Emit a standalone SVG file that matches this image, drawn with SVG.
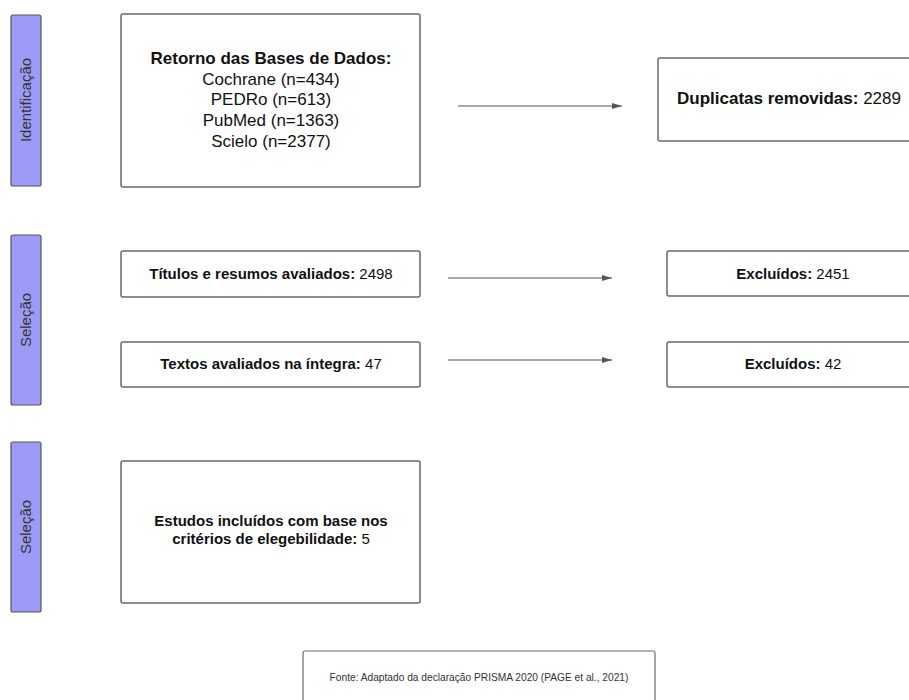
<svg xmlns="http://www.w3.org/2000/svg" width="909" height="700" viewBox="0 0 909 700">
<defs>
<marker id="arr" markerWidth="10" markerHeight="6" refX="10" refY="3" orient="auto" markerUnits="userSpaceOnUse">
<path d="M0,0 L10,3 L0,6 Z" fill="#555"/>
</marker>
<style>
.side{fill:#9c9cf6;stroke:#555;stroke-width:1.2}
.sidet{font-family:"Liberation Sans",Arial,sans-serif;font-size:15px;fill:#333;text-anchor:middle}
.box{fill:#fff;stroke:#6a6a6a;stroke-width:1.5}
.t{font-family:"Liberation Sans",Arial,sans-serif;font-size:15px;fill:#111;text-anchor:middle}
.big{font-size:17px}
.b{font-weight:bold}
.conn{stroke:#555;stroke-width:1.2;fill:none;marker-end:url(#arr)}
</style>
</defs>
<rect width="909" height="700" fill="#fff"/>
<g id="phase-identificacao">
<rect class="side" x="11" y="15" width="30" height="171" rx="2"/>
<text class="sidet" transform="translate(31,100) rotate(-90)">Identificação</text>
</g>
<g id="phase-selecao1">
<rect class="side" x="11" y="235" width="30" height="170" rx="2"/>
<text class="sidet" transform="translate(31,320) rotate(-90)">Seleção</text>
</g>
<g id="phase-selecao2">
<rect class="side" x="11" y="442" width="30" height="170" rx="2"/>
<text class="sidet" transform="translate(31,527) rotate(-90)">Seleção</text>
</g>
<g id="retorno">
<rect class="box" x="121" y="14" width="299" height="173" rx="2"/>
<text class="t big b" x="271" y="64">Retorno das Bases de Dados:</text>
<text class="t big" x="271" y="85">Cochrane (n=434)</text>
<text class="t big" x="271" y="105">PEDRo (n=613)</text>
<text class="t big" x="271" y="126">PubMed (n=1363)</text>
<text class="t big" x="271" y="147">Scielo (n=2377)</text>
</g>
<g id="duplicatas">
<rect class="box" x="658" y="58" width="262" height="83" rx="2"/>
<text class="t big" x="789" y="104"><tspan class="b">Duplicatas removidas:</tspan> 2289</text>
</g>
<g id="titulos">
<rect class="box" x="121" y="251" width="299" height="46" rx="2"/>
<text class="t" x="271" y="279"><tspan class="b">Títulos e resumos avaliados:</tspan> 2498</text>
</g>
<g id="excluidos1">
<rect class="box" x="667" y="251" width="253" height="45" rx="2"/>
<text class="t" x="793" y="279"><tspan class="b">Excluídos:</tspan> 2451</text>
</g>
<g id="textos">
<rect class="box" x="121" y="342" width="299" height="45" rx="2"/>
<text class="t" x="271" y="369"><tspan class="b">Textos avaliados na íntegra:</tspan> 47</text>
</g>
<g id="excluidos2">
<rect class="box" x="667" y="342" width="253" height="45" rx="2"/>
<text class="t" x="793" y="369"><tspan class="b">Excluídos:</tspan> 42</text>
</g>
<g id="estudos">
<rect class="box" x="121" y="461" width="299" height="142" rx="2"/>
<text class="t b" x="271" y="526">Estudos incluídos com base nos</text>
<text class="t" x="271" y="544"><tspan class="b">critérios de elegebilidade:</tspan> 5</text>
</g>
<g id="fonte">
<rect class="box" x="303" y="651" width="352" height="60" rx="2" style="stroke-width:1.2"/>
<text x="479" y="681" style="font-family:'Liberation Sans',Arial,sans-serif;font-size:10.2px;fill:#333;text-anchor:middle">Fonte: Adaptado da declaração PRISMA 2020 (PAGE et al., 2021)</text>
</g>
<g id="connectors">
<line class="conn" x1="458" y1="106" x2="622" y2="106"/>
<line class="conn" x1="448" y1="278" x2="612" y2="278"/>
<line class="conn" x1="448" y1="360" x2="612" y2="360"/>
</g>
</svg>
